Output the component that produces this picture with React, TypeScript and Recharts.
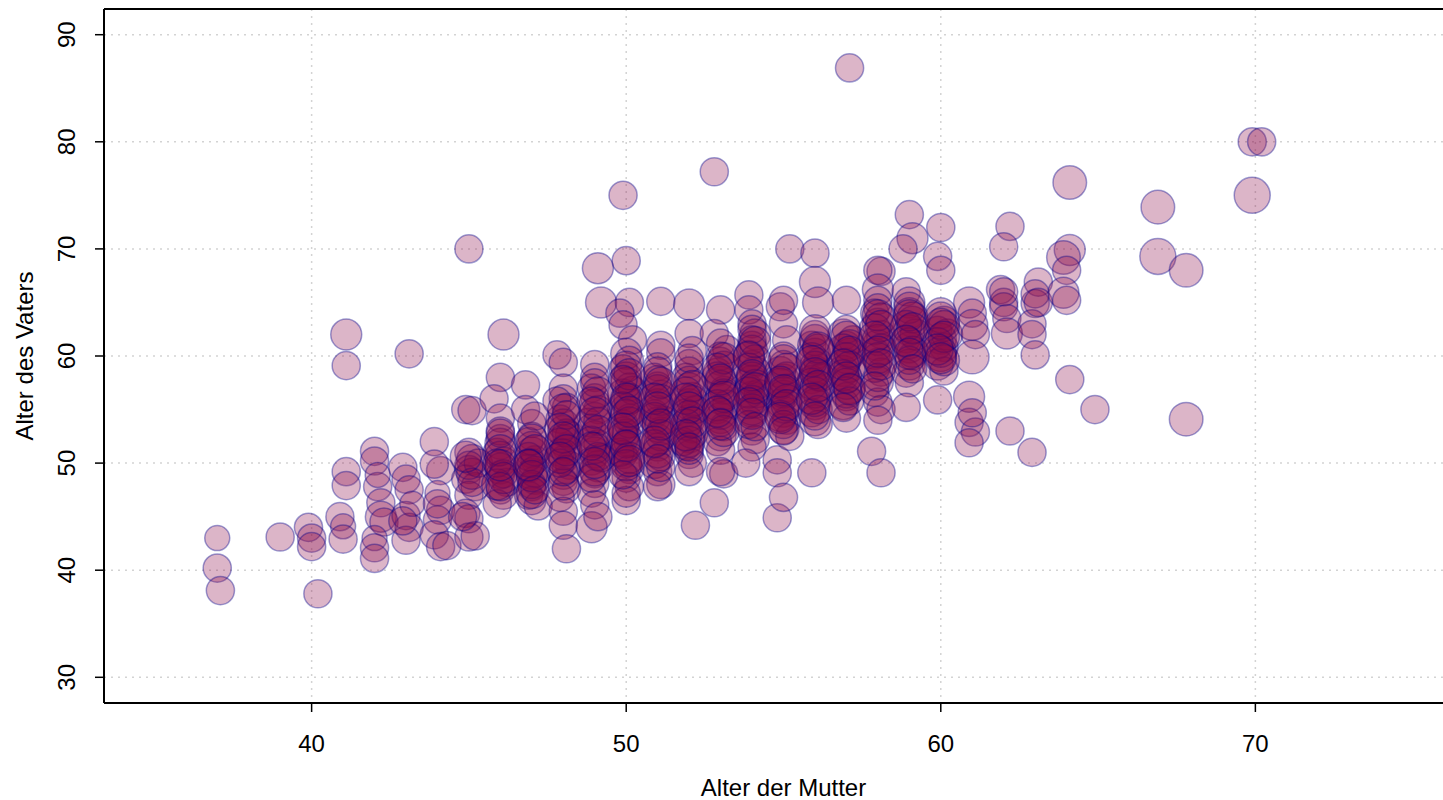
import { ScatterChart, Scatter, XAxis, YAxis, ZAxis, CartesianGrid, ReferenceLine } from "recharts";

// Alter der Mutter (x), Alter des Vaters (y), Punktgröße (z), spaltenweise nach Alter der Mutter
const alterMutter = [
  37.0, 37.0, 37.1,
  39.0,
  39.9, 40.0, 40.0, 40.2,
  40.9, 41.1, 41.1, 41.1, 41.1, 41.0, 41.0,
  42.0, 42.0, 42.1, 42.2, 42.2, 42.3, 42.0, 42.0, 42.0, 42.1,
  43.1, 42.9, 43.0, 43.1, 43.0, 43.1, 43.0, 43.2, 42.9,
  43.9, 44.1, 44.0, 44.1, 44.0, 43.9, 44.1, 44.3, 44.0, 43.9,
  45.0, 44.9, 45.1, 45.0, 45.1, 45.0, 44.9, 45.2, 45.0, 44.9, 45.0, 45.0, 45.2, 45.1, 45.3, 44.8,
  46.1, 46.0, 45.8, 46.0, 46.0, 46.0, 45.9, 46.1, 46.0, 46.0, 46.2, 46.0, 46.1, 45.9, 46.0,
  46.8, 46.8, 47.0, 47.0, 47.0, 47.1, 46.9, 47.0, 47.1, 47.0, 46.9, 47.0, 47.2, 46.9, 47.1, 47.0,
  47.8, 48.0, 48.0, 48.0, 48.1, 47.9, 48.0, 48.0, 48.1, 47.9, 48.0, 48.2, 48.0, 48.0, 48.1, 47.9, 48.0, 48.0, 48.1, 48.2, 47.8,
  49.1, 49.2, 49.0, 49.0, 48.9, 49.0, 49.1, 49.0, 48.9, 49.0, 49.1, 49.0, 48.9, 49.1, 49.0, 49.0, 48.9, 49.0, 48.9, 49.1, 49.2, 48.8,
  49.9, 50.0, 50.1, 49.8, 49.9, 50.2, 50.0, 50.1, 49.9, 50.0, 50.1, 49.9, 50.0, 50.0, 50.1, 49.9, 50.0, 50.1, 50.0, 49.9, 50.0, 50.1, 50.0, 50.1, 50.0, 49.9, 50.2, 49.8, 50.0,
  51.1, 51.1, 51.1, 51.0, 50.9, 51.0, 51.1, 51.0, 50.9, 51.0, 51.1, 51.0, 51.0, 51.1, 50.9, 51.0, 51.1, 51.0, 51.2, 51.0,
  52.0, 52.0, 52.1, 52.0, 51.9, 52.0, 52.1, 52.0, 51.9, 52.0, 52.1, 52.0, 51.9, 52.0, 52.1, 52.0, 52.2, 51.8, 52.2,
  52.8, 53.0, 52.8, 53.2, 53.0, 52.9, 53.0, 53.1, 53.0, 52.9, 53.0, 53.1, 53.0, 52.9, 53.0, 53.1, 52.8, 53.0, 53.2,
  53.9, 53.9, 54.0, 54.1, 54.0, 53.9, 54.0, 54.1, 54.0, 53.9, 54.0, 54.1, 54.0, 53.9, 54.0, 54.1, 54.0, 53.8, 54.2,
  55.2, 54.9, 55.0, 55.0, 55.1, 55.0, 54.9, 55.0, 55.1, 55.0, 54.9, 55.0, 55.1, 55.0, 54.8, 54.8, 54.8, 55.0, 55.2,
  56.0, 56.0, 56.1, 56.0, 55.9, 56.0, 56.1, 56.0, 55.9, 56.0, 56.1, 56.0, 55.9, 56.0, 56.1, 55.9, 56.2,
  57.1, 57.0, 56.9, 57.0, 57.1, 57.0, 56.9, 57.0, 57.1, 57.0, 56.9, 57.0, 57.2,
  58.1, 58.0, 58.0, 58.0, 57.9, 58.0, 58.1, 58.0, 57.9, 58.0, 58.1, 58.0, 57.9, 58.0, 58.1, 57.8, 58.1, 58.0,
  59.0, 59.1, 58.8, 58.9, 59.0, 59.0, 59.1, 59.0, 58.9, 59.0, 59.1, 59.0, 58.9, 59.0, 58.9, 59.2,
  60.0, 59.9, 60.0, 60.0, 60.1, 59.9, 60.0, 60.1, 60.0, 59.9, 60.1, 59.9, 60.2,
  60.9, 61.0, 61.0, 61.1, 61.0, 60.9, 60.9, 61.1, 60.9, 61.0,
  62.2, 62.0, 61.9, 62.0, 62.0, 62.1, 62.1, 62.2, 62.0,
  63.1, 63.0, 63.0, 62.9, 62.9, 63.0, 62.9, 63.1,
  64.1, 64.1, 63.9, 64.0, 63.9, 64.0, 64.1, 64.9,
  66.9, 66.9, 67.8, 67.8, 69.9, 69.9, 70.2,
  // dichter Kern
  45.0, 45.1, 44.9,
  46.0, 46.1, 45.9, 46.0,
  47.0, 46.9, 47.1, 47.0, 47.0,
  48.0, 48.1, 47.9, 48.0, 48.1, 48.0, 47.9,
  49.0, 49.1, 48.9, 49.0, 49.1, 49.0, 48.9,
  50.0, 50.1, 49.9, 50.0, 50.1, 49.9, 50.0, 50.1, 50.0, 49.9,
  51.0, 51.0, 51.1, 50.9, 51.0, 51.1, 50.9, 51.0, 51.1,
  52.0, 52.0, 51.9, 52.1, 52.0, 51.9, 52.1, 52.0, 52.0,
  53.0, 53.1, 52.9, 53.0, 53.1, 52.9, 53.0, 53.0, 53.1,
  54.0, 54.0, 54.1, 53.9, 54.0, 54.1, 53.9, 54.0, 54.0, 53.9,
  55.0, 55.1, 54.9, 55.0, 55.1, 55.0, 54.9, 55.0,
  56.0, 56.1, 55.9, 56.0, 56.1, 55.9, 56.0, 56.0, 56.1,
  57.0, 57.1, 56.9, 57.0, 57.1, 56.9, 57.0, 57.0, 57.1,
  58.0, 58.1, 57.9, 58.0, 58.1, 58.0, 57.9, 58.0,
  59.0, 59.1, 58.9, 59.0, 59.1, 59.0,
  60.0, 60.1, 59.9, 60.0, 60.1,
  // noch dichter
  46.0, 45.9, 46.1, 46.0, 46.0,
  47.0, 47.1, 46.9, 47.0, 47.1, 46.9,
  48.0, 48.1, 47.9, 48.0, 48.1, 47.9, 48.0,
  49.0, 49.1, 48.9, 49.0, 49.1, 48.9, 49.0,
  50.0, 50.1, 49.9, 50.0, 50.1, 49.9, 50.0, 50.1,
  51.0, 51.1, 50.9, 51.0, 51.1, 50.9, 51.0,
  52.0, 52.1, 51.9, 52.0, 52.1, 51.9, 52.0,
  53.0, 53.1, 52.9, 53.0, 53.1, 52.9, 53.0,
  54.0, 54.1, 53.9, 54.0, 54.1, 53.9, 54.0, 54.1,
  55.0, 55.1, 54.9, 55.0, 55.1, 54.9, 55.0,
  56.0, 56.1, 55.9, 56.0, 56.1, 55.9, 56.0,
  57.0, 57.1, 56.9, 57.0, 57.1, 56.9,
  58.0, 58.1, 57.9, 58.0, 58.1, 57.9,
  59.0, 59.1, 58.9, 59.0, 59.1,
  60.0, 60.1, 59.9, 60.0,
];

const alterVater = [
  43.0, 40.2, 38.1,
  43.1,
  44.0, 43.0, 42.2, 37.8,
  45.0, 62.0, 59.1, 49.2, 47.9, 44.1, 42.9,
  51.1, 50.2, 47.8, 46.3, 45.0, 44.5, 43.0, 42.1, 41.1, 48.9,
  60.2, 49.6, 48.5, 47.5, 45.1, 44.0, 42.8, 46.2, 44.6,
  52.0, 49.3, 47.2, 45.6, 44.7, 43.3, 42.2, 42.3, 46.2, 49.9,
  70.0, 55.0, 54.9, 51.0, 50.3, 49.4, 48.5, 47.8, 47.0, 45.3, 44.8, 43.1, 43.2, 49.0, 50.0, 45.0,
  62.0, 58.0, 56.0, 54.2, 52.3, 51.8, 51.0, 50.2, 49.5, 48.9, 48.2, 47.5, 47.0, 46.2, 53.0,
  57.3, 55.0, 53.7, 52.5, 51.0, 50.3, 49.5, 49.0, 48.4, 47.8, 47.0, 46.5, 46.0, 52.0, 54.4, 50.0,
  60.1, 59.4, 57.0, 56.0, 55.2, 54.1, 53.0, 52.1, 51.5, 51.0, 50.3, 49.8, 49.0, 48.3, 47.6, 46.8, 45.5, 44.2, 42.0, 52.6, 55.8,
  68.2, 65.0, 59.2, 58.0, 57.0, 56.1, 55.0, 54.2, 53.3, 52.5, 51.8, 51.0, 50.2, 49.7, 49.0, 48.1, 47.2, 46.1, 44.0, 45.0, 50.5, 53.8,
  75.0, 68.9, 65.0, 64.0, 62.9, 61.5, 60.2, 59.6, 58.8, 58.0, 57.1, 56.4, 55.8, 55.0, 54.2, 53.5, 52.8, 52.0, 51.4, 50.8, 50.1, 49.4, 48.6, 47.8, 46.5, 53.0, 56.8, 51.0, 47.2,
  65.1, 61.0, 60.3, 59.0, 58.0, 57.2, 56.3, 55.5, 54.6, 53.8, 53.0, 52.2, 51.5, 50.6, 50.0, 49.2, 48.0, 47.8, 54.0, 55.0,
  64.8, 62.1, 60.5, 59.3, 58.0, 57.0, 56.2, 55.5, 54.7, 54.0, 53.2, 52.4, 51.6, 50.8, 50.0, 49.2, 44.2, 52.0, 55.0,
  77.2, 64.3, 62.1, 60.6, 59.5, 58.5, 57.6, 56.8, 56.0, 55.0, 54.2, 53.4, 52.6, 52.0, 51.2, 49.0, 46.3, 49.2, 55.5,
  65.7, 64.3, 63.0, 62.0, 61.0, 60.0, 59.2, 58.5, 57.7, 57.0, 56.2, 55.5, 54.8, 54.0, 53.0, 52.2, 51.5, 50.0, 56.5,
  70.0, 64.6, 65.2, 63.0, 61.5, 60.0, 58.5, 57.8, 57.0, 56.3, 55.6, 54.8, 54.0, 53.2, 50.3, 49.1, 44.9, 46.8, 52.5,
  69.6, 66.9, 65.0, 62.0, 61.0, 60.2, 59.4, 58.6, 57.8, 57.0, 56.2, 55.5, 54.7, 54.0, 53.6, 49.1, 58.0,
  86.9, 65.2, 62.0, 61.0, 60.2, 59.4, 58.6, 57.8, 57.0, 56.2, 55.5, 54.2, 61.5,
  67.9, 68.0, 66.2, 65.2, 64.0, 63.0, 62.0, 61.0, 60.2, 59.4, 58.5, 57.6, 56.6, 55.7, 55.0, 51.1, 49.1, 54.0,
  73.2, 71.0, 70.0, 66.0, 65.0, 64.0, 63.2, 62.4, 61.6, 60.8, 60.0, 59.2, 58.4, 57.5, 55.2, 62.0,
  72.0, 69.3, 68.0, 64.0, 63.2, 62.4, 61.6, 60.8, 60.0, 59.2, 58.6, 55.9, 62.0,
  65.0, 64.0, 62.9, 62.0, 59.9, 56.2, 53.8, 52.9, 51.9, 54.7,
  72.1, 70.2, 66.2, 65.0, 64.6, 63.5, 62.1, 53.0, 66.0,
  66.9, 64.9, 65.8, 63.0, 62.0, 60.1, 51.0, 65.0,
  76.2, 69.9, 69.2, 68.0, 65.9, 65.2, 57.8, 55.0,
  73.9, 69.3, 68.0, 54.1, 75.0, 80.0, 80.0,
  // dichter Kern
  49.8, 48.2, 50.6,
  50.6, 49.0, 48.0, 52.8,
  51.5, 50.6, 49.2, 48.0, 47.2,
  53.6, 52.8, 51.8, 50.8, 49.4, 48.0, 50.0,
  55.5, 53.9, 52.0, 51.4, 50.6, 49.3, 48.6,
  57.5, 56.0, 55.2, 54.5, 53.8, 52.4, 51.8, 50.5, 49.8, 48.9,
  57.8, 56.8, 55.9, 54.2, 53.4, 52.6, 51.8, 51.0, 49.6,
  58.6, 57.6, 56.6, 55.8, 54.4, 53.6, 52.8, 52.0, 51.2,
  60.0, 59.0, 58.0, 57.2, 56.4, 55.4, 54.6, 53.8, 53.0,
  61.5, 60.5, 59.6, 58.8, 58.0, 57.3, 56.6, 55.8, 55.0, 53.6,
  59.2, 58.0, 57.4, 56.6, 55.9, 55.2, 54.4, 53.6,
  61.5, 60.6, 59.8, 59.0, 58.2, 57.4, 56.6, 55.8, 55.0,
  62.5, 61.0, 60.6, 59.8, 59.0, 58.2, 57.4, 56.6, 55.8,
  64.5, 63.5, 62.5, 61.5, 60.6, 59.8, 59.0, 58.0,
  64.5, 63.6, 62.8, 61.2, 60.4, 59.6,
  63.6, 62.8, 61.2, 60.4, 59.6,
  // noch dichter
  51.2, 50.0, 48.6, 47.8, 49.8,
  52.2, 51.2, 50.0, 48.8, 47.5, 49.8,
  55.0, 54.5, 53.2, 52.4, 51.2, 50.5, 49.2,
  57.5, 56.6, 55.8, 54.7, 53.0, 51.6, 50.0,
  59.0, 58.3, 57.8, 56.0, 54.8, 53.2, 51.6, 50.2,
  58.6, 57.5, 56.0, 55.2, 53.6, 52.0, 50.4,
  59.8, 57.2, 56.0, 55.2, 53.8, 52.6, 51.5,
  61.2, 59.8, 58.8, 57.8, 56.2, 54.8, 53.6,
  62.5, 61.3, 59.9, 58.2, 57.0, 55.6, 54.6, 53.4,
  59.6, 58.8, 57.6, 56.8, 55.4, 54.2, 53.0,
  62.4, 60.8, 59.5, 58.4, 57.2, 56.0, 54.4,
  61.8, 60.4, 59.2, 58.0, 56.9, 55.2,
  63.8, 62.8, 61.8, 60.4, 59.2, 57.2,
  63.8, 62.6, 61.4, 60.2, 58.8,
  63.0, 61.8, 60.6, 59.8,
];

const groesse = [
  1, 2, 2,
  2,
  2, 2, 2, 2,
  2, 3, 2, 2, 2, 1, 2,
  2, 2, 2, 2, 3, 2, 1, 2, 2, 1,
  2, 2, 2, 2, 2, 2, 2, 1, 2,
  2, 2, 1, 2, 2, 2, 2, 2, 2, 2,
  2, 2, 2, 2, 3, 2, 2, 2, 2, 2, 2, 2, 2, 3, 2, 2,
  3, 2, 2, 2, 2, 3, 2, 2, 3, 2, 2, 2, 2, 2, 2,
  2, 2, 2, 2, 3, 2, 2, 3, 2, 2, 2, 2, 2, 2, 2, 2,
  2, 2, 2, 2, 2, 2, 3, 3, 2, 2, 2, 2, 3, 2, 2, 2, 2, 2, 2, 2, 2,
  3, 3, 2, 2, 2, 2, 2, 3, 2, 3, 2, 3, 2, 3, 2, 2, 2, 2, 3, 2, 2, 2,
  2, 2, 2, 2, 2, 2, 3, 2, 2, 3, 2, 3, 3, 3, 2, 3, 2, 3, 3, 2, 3, 2, 2, 2, 2, 2, 2, 2, 2,
  2, 2, 2, 2, 2, 2, 3, 3, 2, 3, 2, 3, 2, 2, 3, 2, 2, 2, 2, 2,
  3, 2, 2, 2, 2, 3, 2, 3, 2, 3, 2, 3, 2, 2, 2, 2, 2, 2, 2,
  2, 2, 2, 2, 2, 2, 3, 2, 3, 2, 3, 2, 3, 2, 2, 2, 2, 2, 2,
  2, 2, 2, 3, 2, 3, 2, 3, 3, 2, 3, 2, 3, 2, 2, 2, 2, 2, 2,
  2, 2, 2, 2, 2, 2, 3, 3, 2, 3, 2, 3, 2, 3, 2, 2, 2, 2, 2,
  2, 3, 3, 2, 2, 3, 2, 3, 2, 3, 2, 3, 2, 3, 2, 2, 2,
  2, 2, 3, 2, 3, 2, 3, 2, 3, 2, 3, 2, 2,
  2, 2, 3, 2, 2, 3, 2, 3, 3, 2, 2, 3, 2, 2, 2, 2, 2, 2,
  2, 3, 2, 2, 3, 3, 3, 3, 2, 3, 2, 3, 2, 2, 2, 3,
  2, 2, 2, 3, 3, 2, 3, 2, 3, 3, 2, 2, 3,
  3, 2, 3, 2, 4, 3, 2, 2, 2, 2,
  2, 2, 2, 2, 2, 2, 3, 2, 2,
  2, 2, 2, 2, 2, 2, 2, 2,
  4, 3, 4, 2, 3, 2, 2, 2,
  4, 5, 4, 4, 5, 2, 2,
  // dichter Kern
  2, 2, 3,
  3, 2, 3, 2,
  3, 2, 3, 2, 3,
  3, 2, 3, 3, 2, 3, 2,
  3, 2, 3, 3, 2, 3, 2,
  3, 3, 3, 3, 3, 3, 2, 3, 3, 2,
  2, 3, 3, 3, 3, 3, 2, 3, 2,
  2, 3, 3, 3, 3, 3, 3, 3, 2,
  2, 3, 3, 3, 3, 3, 3, 2, 3,
  2, 3, 3, 3, 3, 3, 3, 3, 3, 2,
  2, 3, 3, 3, 3, 3, 3, 2,
  3, 3, 3, 3, 3, 3, 3, 3, 2,
  2, 3, 3, 3, 3, 3, 3, 3, 2,
  2, 3, 3, 3, 3, 3, 3, 2,
  3, 3, 3, 3, 3, 2,
  3, 3, 3, 3, 3,
  // noch dichter
  3, 2, 3, 2, 3,
  3, 3, 2, 3, 2, 3,
  3, 2, 3, 3, 3, 3, 2,
  2, 3, 2, 3, 3, 2, 3,
  3, 3, 2, 3, 3, 3, 3, 3,
  2, 3, 3, 3, 3, 3, 2,
  2, 3, 3, 3, 3, 3, 2,
  2, 3, 3, 3, 3, 3, 3,
  2, 3, 3, 3, 3, 3, 3, 2,
  3, 3, 3, 3, 3, 3, 2,
  3, 3, 3, 3, 3, 3, 2,
  3, 3, 3, 3, 3, 2,
  3, 3, 3, 3, 3, 2,
  3, 3, 3, 3, 2,
  3, 3, 3, 3,
];

const xTicks = [40, 50, 60, 70];
const yTicks = [30, 40, 50, 60, 70, 80, 90];
const xBereich = [33.4, 76.6];
const yBereich = [27.6, 92.4];

const punkte = alterMutter.map((m, i) => ({ mutter: m, vater: alterVater[i], groesse: groesse[i] }));

const schrift = "'Liberation Sans', Arial, sans-serif";
const rahmen = { stroke: "#000", strokeWidth: 2 };

function XTick({ x, y, payload }: any) {
  return (
    <text x={x} y={y} dy="0.71em" textAnchor="middle" fontSize={24} fontFamily={schrift} fill="#000">
      {payload.value}
    </text>
  );
}

function YTick({ x, y, payload }: any) {
  return (
    <text x={x} y={y} transform={`rotate(-90, ${x}, ${y})`} textAnchor="middle" fontSize={24} fontFamily={schrift} fill="#000">
      {payload.value}
    </text>
  );
}

export default function App() {
  return (
    <div style={{ position: "fixed", left: 0, top: 0, width: 1443, height: 800, overflow: "hidden", background: "#fff" }}>
      <ScatterChart width={1443} height={800} margin={{ top: 9, right: -20, bottom: 0, left: 0 }} accessibilityLayer={false}>
        <CartesianGrid stroke="#d3d3d3" strokeDasharray="2 5" strokeWidth={1.5} />
        <XAxis
          type="number"
          dataKey="mutter"
          domain={xBereich}
          ticks={xTicks}
          allowDataOverflow
          height={97}
          axisLine={rahmen}
          tickLine={{ stroke: "#000", strokeWidth: 1.5 }}
          tickSize={9}
          tickMargin={23}
          tick={<XTick />}
          label={{
            content: ({ viewBox }: any) => (
              <text x={viewBox.x + viewBox.width / 2} y={viewBox.y + 93} textAnchor="middle" fontSize={24} fontFamily={schrift} fill="#000">
                Alter der Mutter
              </text>
            ),
          }}
        />
        <YAxis
          type="number"
          dataKey="vater"
          domain={yBereich}
          ticks={yTicks}
          allowDataOverflow
          width={104}
          axisLine={rahmen}
          tickLine={{ stroke: "#000", strokeWidth: 1.5 }}
          tickSize={9}
          tickMargin={20}
          tick={<YTick />}
          label={{
            content: ({ viewBox }: any) => {
              const cx = viewBox.x + 33;
              const cy = viewBox.y + viewBox.height / 2;
              return (
                <text x={cx} y={cy} transform={`rotate(-90, ${cx}, ${cy})`} textAnchor="middle" fontSize={24} fontFamily={schrift} fill="#000">
                  Alter des Vaters
                </text>
              );
            },
          }}
        />
        <ZAxis type="number" dataKey="groesse" domain={[1, 5]} range={[491, 1018]} />
        <Scatter
          data={punkte}
          shape="circle"
          fill="#8B0A48"
          fillOpacity={0.3}
          stroke="#00008B"
          strokeOpacity={0.38}
          strokeWidth={1.5}
          isAnimationActive={false}
        />
        {/* obere Rahmenlinie */}
        <ReferenceLine y={yBereich[1]} stroke="#000" strokeWidth={2} ifOverflow="visible" />
      </ScatterChart>
    </div>
  );
}
